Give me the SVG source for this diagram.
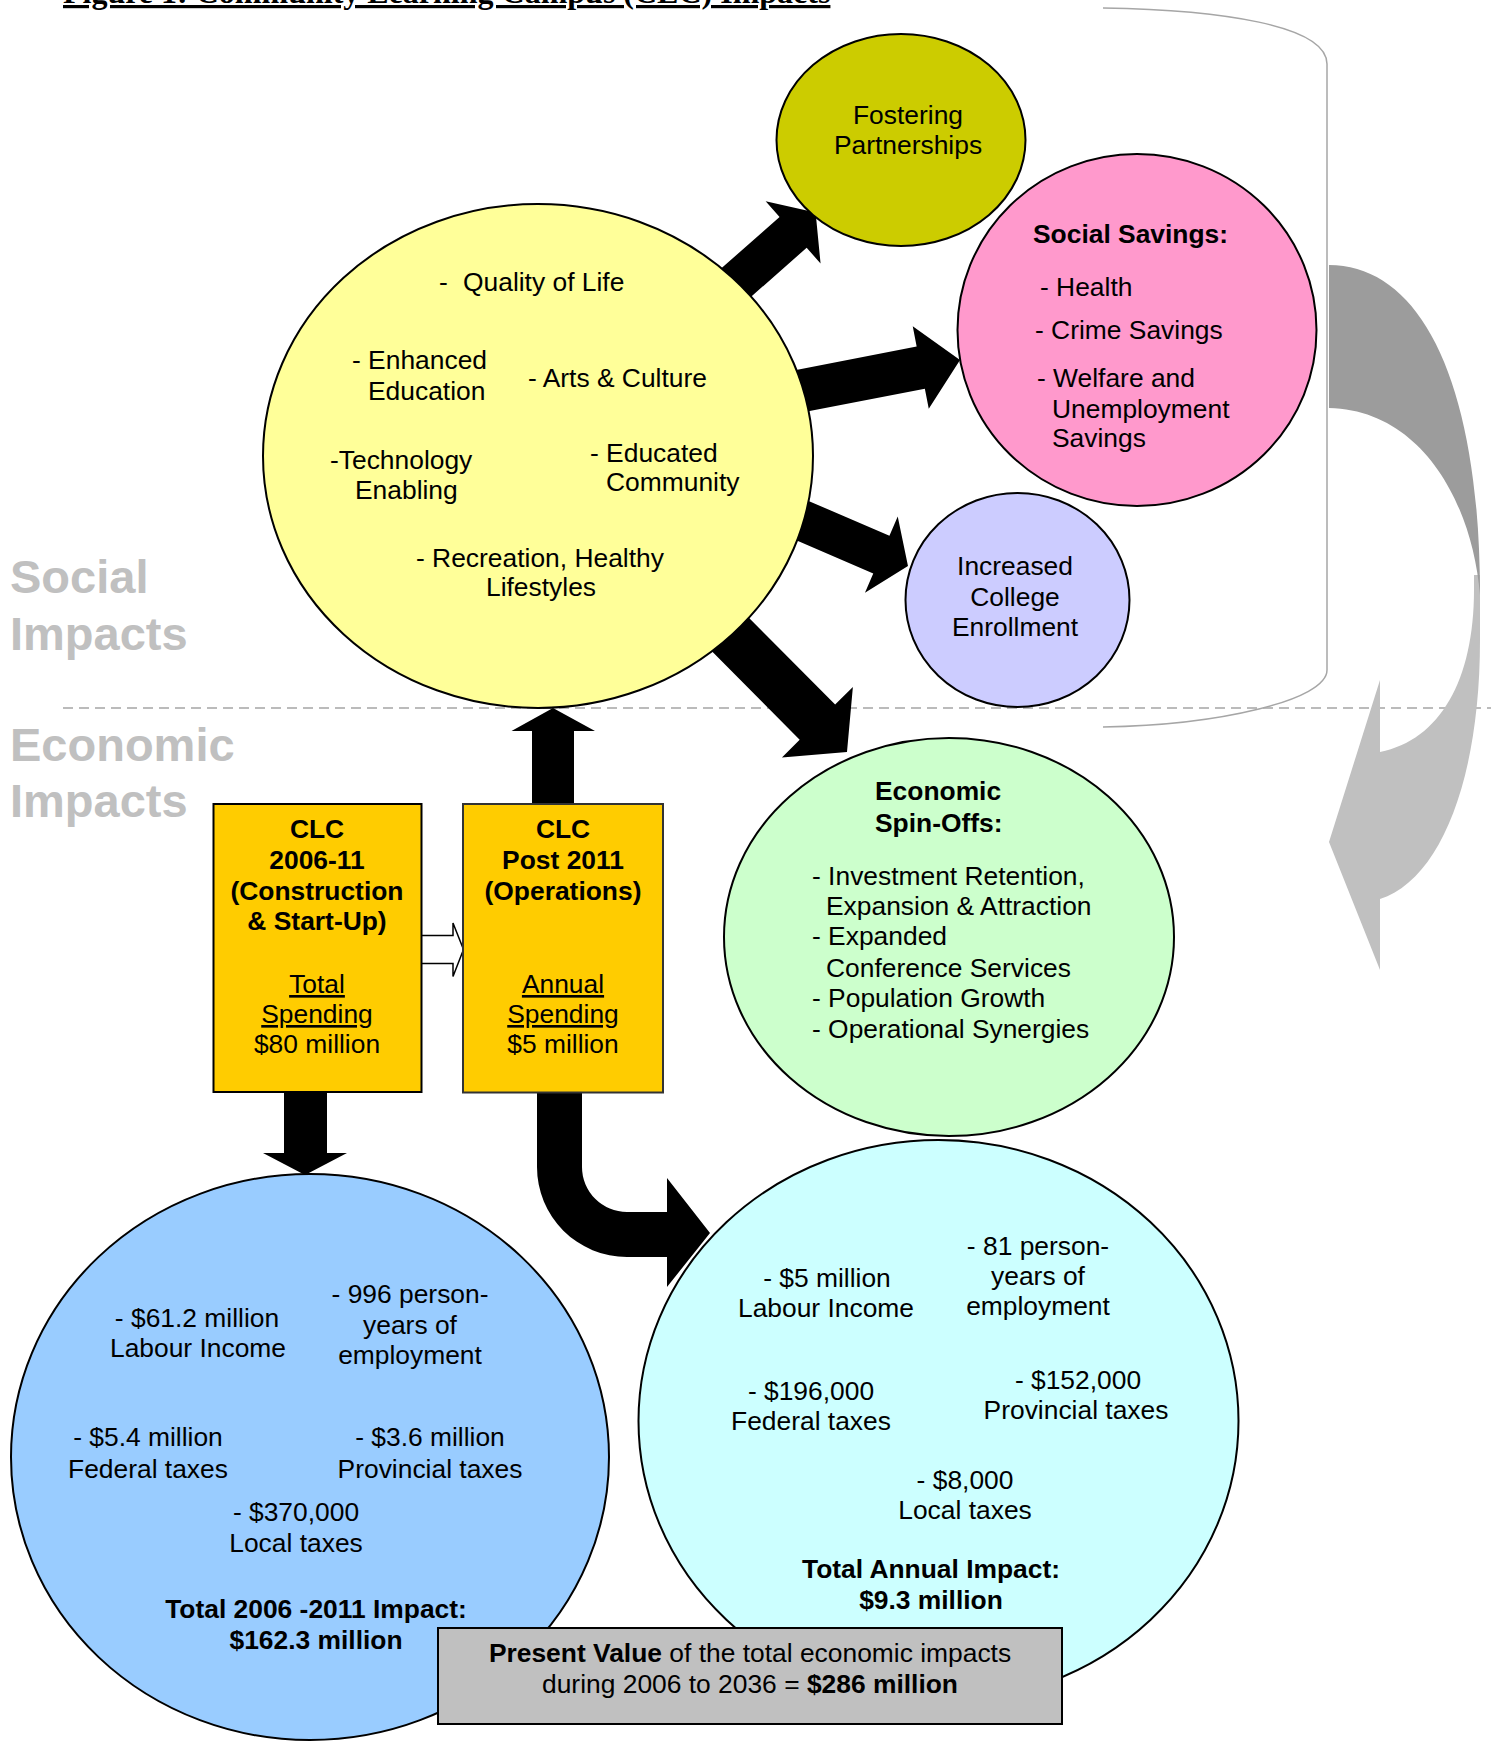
<svg xmlns="http://www.w3.org/2000/svg" width="1491" height="1743" viewBox="0 0 1491 1743">
<style>
.t{font-family:"Liberation Sans",Arial,Helvetica,sans-serif;font-size:26.4px;fill:#000}
.b{font-weight:bold}
.c{text-anchor:middle}
.u{text-decoration:underline}
.n{stroke:#000;stroke-width:2}
.side{font-family:"Liberation Sans",Arial,sans-serif;font-size:47px;font-weight:bold;fill:#C0C0C0}
.blk{fill:#000}
</style>
<rect width="1491" height="1743" fill="#fff"/>
<text x="63" y="3" style="font-family:'Liberation Serif','Times New Roman',serif;font-size:32px;font-weight:bold;text-decoration:underline">Figure 1: Community Learning Campus (CLC) Impacts</text>
<g id="labels">
<text class="side" x="10" y="593">Social</text>
<text class="side" x="10" y="650">Impacts</text>
<text class="side" x="10" y="761">Economic</text>
<text class="side" x="10" y="817">Impacts</text>
</g>
<line x1="63" y1="708" x2="1491" y2="708" stroke="#BBBBBB" stroke-width="2" stroke-dasharray="10,6"/>
<path id="bracket" d="M1103,8 C1220,10 1327,25 1327,64 L1327,670 C1327,700 1220,725 1103,727" fill="none" stroke="#A6A6A6" stroke-width="1.5"/>
<g id="cycle-arrow">
<path d="M1474,575 L1480,575 L1480,640 C1480,780 1440,880 1380,899 L1380,970 L1329,842 L1380,680 L1380,752 C1440,740 1474,680 1474,590 Z" fill="#C0C0C0"/>
<path d="M1329,265 C1420,265 1480,380 1480,595 C1472,500 1420,410 1329,408 Z" fill="#9C9C9C"/>
</g>
<g id="connectors">
<polygon class="blk" transform="translate(713,303) rotate(-41.4)" points="0,-20.5 106.8,-20.5 106.8,-41.5 136.8,0 106.8,41.5 106.8,20.5 0,20.5"/>
<polygon class="blk" transform="translate(790,393) rotate(-11)" points="0,-21.5 133.2,-21.5 133.2,-42 173.2,0 133.2,42 133.2,21.5 0,21.5"/>
<polygon class="blk" transform="translate(780,511) rotate(23.25)" points="0,-20.5 110.3,-20.5 110.3,-41.5 139.3,0 110.3,41.5 110.3,20.5 0,20.5"/>
<polygon class="blk" transform="translate(711,615) rotate(45.2)" points="0,-25 151,-25 151,-50 193,0 151,50 151,25 0,25"/>
<polygon class="blk" points="532,806 532,731 511.5,731 553,708 595,731 574,731 574,806"/>
<polygon class="blk" points="284,1092 327,1092 327,1153 347,1153 305,1175 263,1153 284,1153"/>
<path class="blk" d="M537,1093 L582,1093 L582,1167 A45,45 0 0 0 627,1212 L667,1212 L667,1178 L710,1233 L667,1287 L667,1257 L627,1257 A90,90 0 0 1 537,1167 Z"/>
<polygon points="421,935.5 453,935.5 453,923 463.5,949.5 453,976.5 453,963.5 421,963.5" fill="#fff" stroke="#000" stroke-width="1.5"/>
</g>
<g id="quality">
<ellipse class="n" cx="538" cy="456" rx="275" ry="252" fill="#FFFF99"/>
<text class="t" x="439" y="291">-<tspan x="463">Quality of Life</tspan></text>
<text class="t" x="352" y="369">- Enhanced</text>
<text class="t" x="368" y="400">Education</text>
<text class="t" x="528" y="387">- Arts &amp; Culture</text>
<text class="t" x="330" y="469">-Technology</text>
<text class="t" x="355" y="499">Enabling</text>
<text class="t" x="590" y="462">- Educated</text>
<text class="t" x="606" y="491">Community</text>
<text class="t" x="416" y="567">- Recreation, Healthy</text>
<text class="t" x="486" y="596">Lifestyles</text>
</g>
<g id="partnerships">
<ellipse class="n" cx="901" cy="140" rx="124.5" ry="106" fill="#CCCC00"/>
<text class="t c" x="908" y="124">Fostering</text>
<text class="t c" x="908" y="154">Partnerships</text>
</g>
<g id="social-savings">
<ellipse class="n" cx="1137" cy="330" rx="179.5" ry="176" fill="#FF99CC"/>
<text class="t b" x="1033" y="243">Social Savings:</text>
<text class="t" x="1040" y="296">- Health</text>
<text class="t" x="1035" y="339">- Crime Savings</text>
<text class="t" x="1037" y="387">- Welfare and</text>
<text class="t" x="1052" y="418">Unemployment</text>
<text class="t" x="1052" y="447">Savings</text>
</g>
<g id="enrollment">
<ellipse class="n" cx="1017.5" cy="600" rx="112" ry="107" fill="#CCCCFF"/>
<text class="t c" x="1015" y="575">Increased</text>
<text class="t c" x="1015" y="606">College</text>
<text class="t c" x="1015" y="636">Enrollment</text>
</g>
<g id="spin-offs">
<ellipse class="n" cx="949" cy="937" rx="225" ry="199" fill="#CCFFCC"/>
<text class="t b" x="875" y="800">Economic</text>
<text class="t b" x="875" y="832">Spin-Offs:</text>
<text class="t" x="812" y="885">- Investment Retention,</text>
<text class="t" x="826" y="915">Expansion &amp; Attraction</text>
<text class="t" x="812" y="945">- Expanded</text>
<text class="t" x="826" y="977">Conference Services</text>
<text class="t" x="812" y="1007">- Population Growth</text>
<text class="t" x="812" y="1038">- Operational Synergies</text>
</g>
<g id="clc-construction">
<rect class="n" x="213.5" y="804" width="208" height="288" fill="#FFCC00"/>
<text class="t b c" x="317" y="838">CLC</text>
<text class="t b c" x="317" y="869">2006-11</text>
<text class="t b c" x="317" y="900">(Construction</text>
<text class="t b c" x="317" y="930">&amp; Start-Up)</text>
<text class="t c u" x="317" y="993">Total</text>
<text class="t c u" x="317" y="1023">Spending</text>
<text class="t c" x="317" y="1053">$80 million</text>
</g>
<g id="clc-operations">
<rect x="463" y="804" width="200" height="288.5" fill="#FFCC00" stroke="#333" stroke-width="2"/>
<text class="t b c" x="563" y="838">CLC</text>
<text class="t b c" x="563" y="869">Post 2011</text>
<text class="t b c" x="563" y="900">(Operations)</text>
<text class="t c u" x="563" y="993">Annual</text>
<text class="t c u" x="563" y="1023">Spending</text>
<text class="t c" x="563" y="1053">$5 million</text>
</g>
<g id="construction-impact">
<ellipse class="n" cx="310" cy="1457" rx="299" ry="283" fill="#99CCFF"/>
<text class="t c" x="197" y="1327">- $61.2 million</text>
<text class="t c" x="198" y="1357">Labour Income</text>
<text class="t c" x="410" y="1303">- 996 person-</text>
<text class="t c" x="410" y="1334">years of</text>
<text class="t c" x="410" y="1364">employment</text>
<text class="t c" x="148" y="1446">- $5.4 million</text>
<text class="t c" x="148" y="1478">Federal taxes</text>
<text class="t c" x="430" y="1446">- $3.6 million</text>
<text class="t c" x="430" y="1478">Provincial taxes</text>
<text class="t c" x="296" y="1521">- $370,000</text>
<text class="t c" x="296" y="1552">Local taxes</text>
<text class="t b c" x="316" y="1618">Total 2006 -2011 Impact:</text>
<text class="t b c" x="316" y="1649">$162.3 million</text>
</g>
<g id="annual-impact">
<ellipse class="n" cx="938.5" cy="1421" rx="300" ry="281" fill="#CCFFFF"/>
<text class="t c" x="827" y="1287">- $5 million</text>
<text class="t c" x="826" y="1317">Labour Income</text>
<text class="t c" x="1038" y="1255">- 81 person-</text>
<text class="t c" x="1038" y="1285">years of</text>
<text class="t c" x="1038" y="1315">employment</text>
<text class="t c" x="811" y="1400">- $196,000</text>
<text class="t c" x="811" y="1430">Federal taxes</text>
<text class="t c" x="1078" y="1389">- $152,000</text>
<text class="t c" x="1076" y="1419">Provincial taxes</text>
<text class="t c" x="965" y="1489">- $8,000</text>
<text class="t c" x="965" y="1519">Local taxes</text>
<text class="t b c" x="931" y="1578">Total Annual Impact:</text>
<text class="t b c" x="931" y="1609">$9.3 million</text>
</g>
<g id="present-value">
<rect class="n" x="438" y="1628" width="624" height="96" fill="#C0C0C0"/>
<text class="t c" x="750" y="1662"><tspan class="b">Present Value</tspan> of the total economic impacts</text>
<text class="t c" x="750" y="1693">during 2006 to 2036 = <tspan class="b">$286 million</tspan></text>
</g>
</svg>
